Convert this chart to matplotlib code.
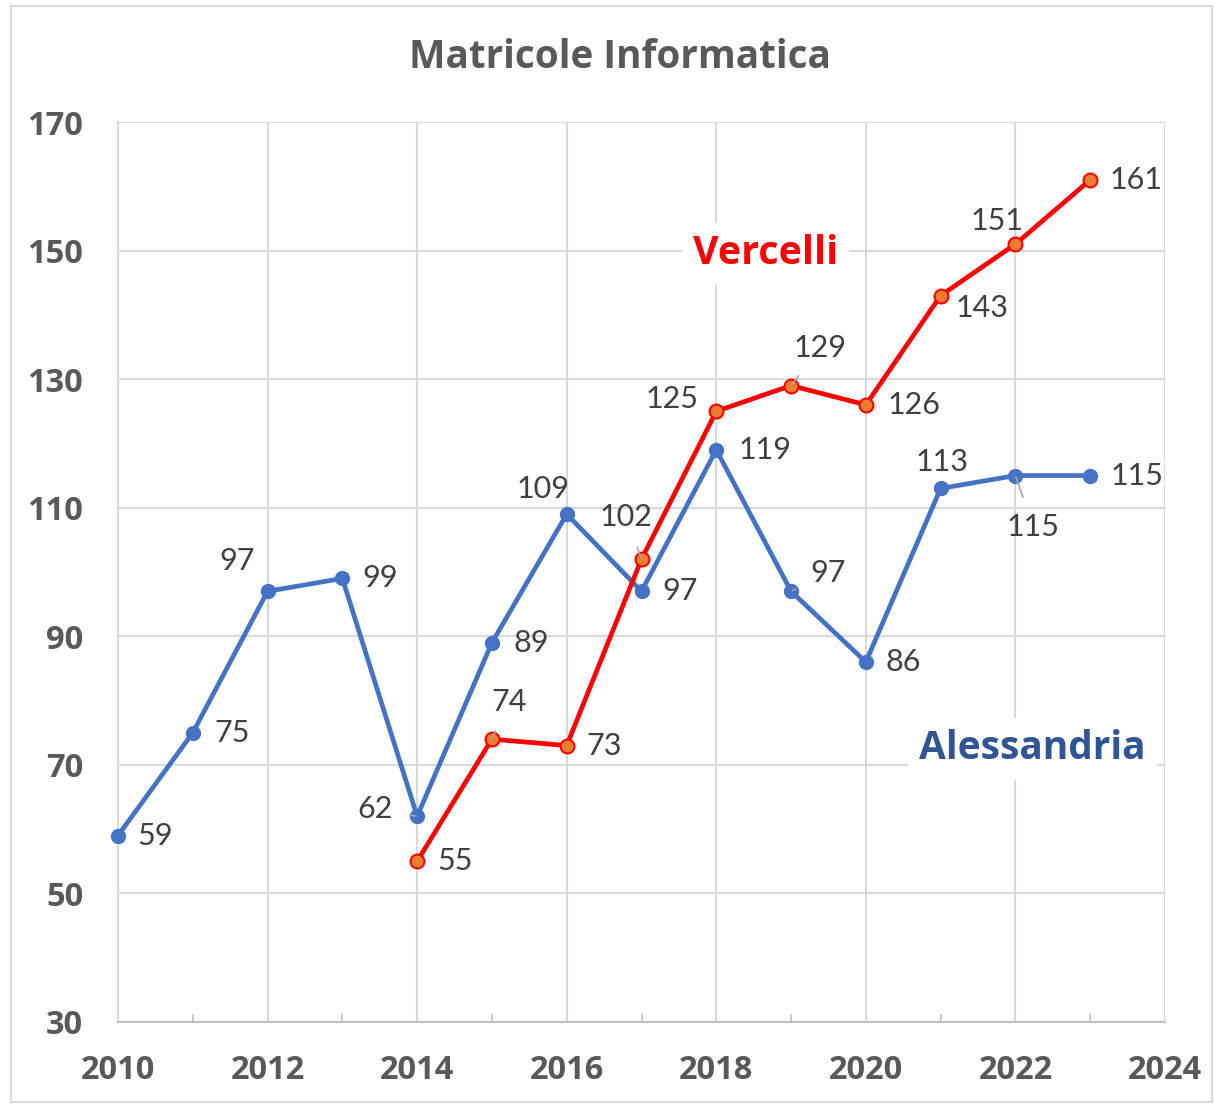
import matplotlib
matplotlib.use("Agg")
import matplotlib.pyplot as plt
from matplotlib.patches import Rectangle
from matplotlib.ticker import FixedLocator, MultipleLocator

plt.rcParams["font.family"] = ["Lato", "DejaVu Sans"]
BOLD_FONT = ["Open Sans", "DejaVu Sans"]

years_al = [2010, 2011, 2012, 2013, 2014, 2015, 2016, 2017, 2018, 2019, 2020, 2021, 2022, 2023]
alessandria = [59, 75, 97, 99, 62, 89, 109, 97, 119, 97, 86, 113, 115, 115]
years_vc = [2014, 2015, 2016, 2017, 2018, 2019, 2020, 2021, 2022, 2023]
vercelli = [55, 74, 73, 102, 125, 129, 126, 143, 151, 161]
y_ticks = [30, 50, 70, 90, 110, 130, 150, 170]

# label centre offsets in points (dx, dy) and leader line flag
al_off = [(27, 0, 0), (28, 0, 0), (-22, 22, 0), (27, 0, 0), (-30, 5, 1), (28, 0, 0),
          (-17, 18, 0), (28, 0, 0), (35, 0, 0), (27, 13, 1), (27, 0, 0), (1, 19, 0),
          (13, -37, 1), (34, 0, 0)]
vc_off = [(27, 0, 0), (12, 27, 1), (27, 0, 0), (-11, 30, 1), (-32, 9, 0), (21, 27, 1),
          (35, 0, 0), (30, -9, 0), (-13, 17, 0), (33, 0, 0)]

BLUE = "#4472C4"
RED = "#FF0000"
GRAY = "#404040"

fig = plt.figure(figsize=(12.14, 11.04), dpi=100)
ax = fig.add_axes([118 / 1214, 1 - 1022 / 1104, (1165 - 118) / 1214, (1022 - 122) / 1104])

fig.patches.append(Rectangle((11 / 1214, 2 / 1104), 1201 / 1214, 1096 / 1104,
                             transform=fig.transFigure, fill=False,
                             edgecolor="#D9D9D9", lw=1.5))

ax.plot(years_al, alessandria, color=BLUE, lw=3.4, marker="o", ms=10,
        mfc=BLUE, mec=BLUE, zorder=3, clip_on=False)
ax.plot(years_vc, vercelli, color=RED, lw=3.4, marker="o", ms=10,
        mfc="#ED7D31", mec=RED, mew=1.5, zorder=4, clip_on=False)


def label(xs, ys, offs):
    for x, y, (dx, dy, lead) in zip(xs, ys, offs):
        kw = {}
        if lead:
            kw["arrowprops"] = dict(arrowstyle="-", color="#A6A6A6", lw=1.2,
                                    shrinkA=10, shrinkB=1)
        ax.annotate(str(y), (x, y), xytext=(dx, dy), textcoords="offset points",
                    ha="center", va="center", fontsize=22,
                    color=GRAY, zorder=5, **kw)


label(years_al, alessandria, al_off)
label(years_vc, vercelli, vc_off)

ax.text(2018.66, 149.6, "Vercelli", color=RED, fontsize=28.4, fontweight="bold",
        family=BOLD_FONT, ha="center", va="center",
        bbox=dict(facecolor="white", edgecolor="none", pad=8), zorder=2)
ax.text(2022.23, 72.5, "Alessandria", color="#2F5597", fontsize=28, fontweight="bold",
        family=BOLD_FONT, ha="center", va="center",
        bbox=dict(facecolor="white", edgecolor="none", pad=8), zorder=2)

ax.set_xlim(2010, 2024)
ax.set_ylim(30, 170)
ax.xaxis.set_major_locator(MultipleLocator(2))
ax.xaxis.set_minor_locator(MultipleLocator(1))
ax.yaxis.set_major_locator(FixedLocator(y_ticks))
ax.grid(True, which="major", color="#D9D9D9", lw=1.5, zorder=0)
ax.set_axisbelow(True)
for side in ("top", "right"):
    ax.spines[side].set_visible(False)
ax.spines["left"].set_color("#D9D9D9")
ax.spines["left"].set_linewidth(1.5)
ax.spines["bottom"].set_color("#BFBFBF")
ax.spines["bottom"].set_linewidth(1.5)
ax.tick_params(axis="x", which="minor", direction="in", length=6, color="#BFBFBF", width=1.2)
ax.tick_params(axis="x", which="major", length=0, pad=23)
ax.tick_params(axis="y", length=0, pad=25)
for t in ax.get_xticklabels() + ax.get_yticklabels():
    t.set_fontsize(23.5)
    t.set_fontweight("bold")
    t.set_family(BOLD_FONT)
    t.set_color("#595959")

fig.text(620 / 1214, 1 - 58 / 1104, "Matricole Informatica", ha="center", va="center",
         fontsize=27.8, fontweight="bold", family=BOLD_FONT, color="#595959")

fig.savefig("out.png", dpi=100)
